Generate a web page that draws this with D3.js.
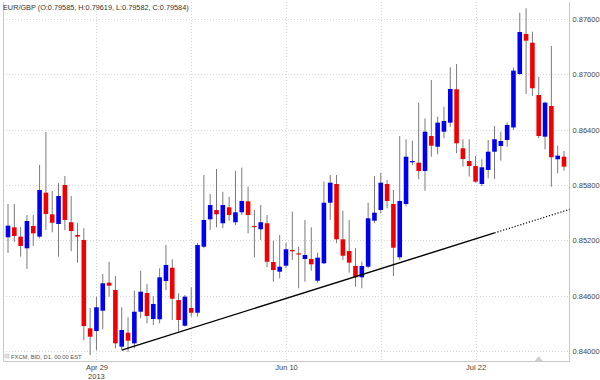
<!DOCTYPE html>
<html>
<head>
<meta charset="utf-8">
<script src="https://cdn.jsdelivr.net/npm/d3@7"></script>
<style>
  body { margin: 0; background: #fff; }
  svg { display: block; font-family: "Liberation Sans", Arial, sans-serif; }
</style>
</head>
<body>
<div id="chart"></div>
<script>
// Daily EUR/GBP candles, first candle is Tue 2013-04-09
const firstDay = "2013-04-09";

const opens = [
  0.85233, 0.85341, 0.85240, 0.85114, 0.85356, 0.85240, 0.85717, 0.85482, 0.85377, 0.85800,
  0.85396, 0.85258, 0.85204, 0.84246, 0.84217, 0.84437, 0.84741, 0.84661, 0.84047, 0.84198,
  0.84083, 0.84426, 0.84629, 0.84347, 0.84344, 0.84759, 0.84903, 0.84553, 0.84274, 0.84466,
  0.84415, 0.85131, 0.85428, 0.85529, 0.85385, 0.85558, 0.85396, 0.85504, 0.85623, 0.85356,
  0.85320, 0.85385, 0.84965, 0.84860, 0.84925, 0.85095, 0.85059, 0.84998, 0.84998, 0.84762,
  0.84951, 0.85608, 0.85811, 0.85211, 0.85084, 0.84922, 0.84799, 0.84914, 0.85413, 0.85529,
  0.85811, 0.85594, 0.85016, 0.85594, 0.86046, 0.86042, 0.85952, 0.86331, 0.86215, 0.86378,
  0.86476, 0.86838, 0.86198, 0.86060, 0.86006, 0.85811, 0.85963, 0.86161, 0.86223, 0.86288,
  0.86424, 0.87004, 0.87438, 0.87343, 0.86776, 0.86324, 0.86657, 0.86079, 0.86107
];
const highs = [
  0.85594, 0.85594, 0.85345, 0.85475, 0.85475, 0.86017, 0.86375, 0.85735, 0.85819, 0.85898,
  0.85681, 0.85385, 0.85331, 0.84466, 0.84589, 0.84835, 0.84968, 0.84813, 0.84474, 0.84365,
  0.84654, 0.84871, 0.84727, 0.84596, 0.84897, 0.85149, 0.84994, 0.84626, 0.84607, 0.84691,
  0.85171, 0.85909, 0.85703, 0.85974, 0.85727, 0.85673, 0.85955, 0.85988, 0.85782, 0.85529,
  0.85583, 0.85475, 0.85196, 0.85258, 0.85174, 0.85511, 0.85131, 0.85421, 0.85341, 0.85066,
  0.85836, 0.85909, 0.85909, 0.85521, 0.85421, 0.85114, 0.84968, 0.85608, 0.85898, 0.85934,
  0.85854, 0.85746, 0.86331, 0.86296, 0.86281, 0.86693, 0.86523, 0.86939, 0.86541, 0.86649,
  0.87076, 0.87112, 0.86296, 0.86296, 0.86115, 0.86079, 0.86288, 0.86440, 0.86378, 0.86476,
  0.87072, 0.87669, 0.87716, 0.87462, 0.86975, 0.86703, 0.87307, 0.86226, 0.86169
];
const lows = [
  0.85063, 0.85182, 0.85023, 0.84889, 0.85139, 0.85222, 0.85312, 0.85287, 0.85023, 0.85312,
  0.85084, 0.84958, 0.84119, 0.83957, 0.84011, 0.84235, 0.84589, 0.84029, 0.84011, 0.83992,
  0.84029, 0.84355, 0.84300, 0.84282, 0.84300, 0.84661, 0.84336, 0.84209, 0.84264, 0.84372,
  0.84372, 0.85114, 0.85312, 0.85341, 0.85331, 0.85413, 0.85366, 0.85475, 0.85276, 0.85016,
  0.85204, 0.84908, 0.84751, 0.84788, 0.84900, 0.84987, 0.84680, 0.84751, 0.84871, 0.84741,
  0.84943, 0.85421, 0.85168, 0.84987, 0.84849, 0.84697, 0.84680, 0.84897, 0.85385, 0.85493,
  0.85547, 0.84813, 0.84987, 0.85572, 0.86017, 0.85862, 0.85738, 0.86107, 0.86133, 0.86307,
  0.86432, 0.86144, 0.85999, 0.85890, 0.85825, 0.85789, 0.85873, 0.85865, 0.86064, 0.86215,
  0.86397, 0.86995, 0.86787, 0.86765, 0.86307, 0.86187, 0.85782, 0.85927, 0.85955
];
const closes = [
  0.85359, 0.85247, 0.85139, 0.85410, 0.85276, 0.85746, 0.85486, 0.85391, 0.85681, 0.85421,
  0.85301, 0.85240, 0.84271, 0.84155, 0.84474, 0.84734, 0.84708, 0.84083, 0.84228, 0.84112,
  0.84426, 0.84643, 0.84380, 0.84510, 0.84799, 0.84933, 0.84567, 0.84336, 0.84589, 0.84415,
  0.85149, 0.85421, 0.85583, 0.85482, 0.85583, 0.85475, 0.85504, 0.85627, 0.85475, 0.85348,
  0.85396, 0.84968, 0.84878, 0.84914, 0.85103, 0.85081, 0.85052, 0.85041, 0.84940, 0.85012,
  0.85608, 0.85825, 0.85211, 0.85033, 0.84958, 0.84799, 0.84922, 0.85439, 0.85500, 0.85825,
  0.85627, 0.85120, 0.85627, 0.86107, 0.86060, 0.85952, 0.86378, 0.86226, 0.86476, 0.86494,
  0.86841, 0.86252, 0.86082, 0.86006, 0.85836, 0.85992, 0.86161, 0.86296, 0.86277, 0.86451,
  0.87040, 0.87459, 0.87365, 0.86849, 0.86331, 0.86693, 0.86101, 0.86118, 0.85999
];

// Axis ticks
const priceTicks = [0.840, 0.846, 0.852, 0.858, 0.864, 0.870, 0.876];
const gridDays = ["2013-04-29", "2013-05-20", "2013-06-10", "2013-07-01", "2013-07-22"];
const tickDays = ["2013-04-29", "2013-06-10", "2013-07-22"];
const tickLabels = ["Apr 29", "Jun 10", "Jul 22"];
const tickYears = ["2013", "", ""];

// Support trend line (date, price), dotted extension after the second point
const trendDays = ["2013-05-03", "2013-07-25"];
const trendPrices = [0.8401, 0.8528];

// Event marker on the date axis
const markerDays = ["2013-08-05"];

const title = "EUR/GBP (O:0.79585, H:0.79619, L:0.79582, C:0.79584)";
const footer = "FXCM, BID, D1, 00:00 EST";

// Build the list of trading days (weekdays only)
const parseDay = d3.timeParse("%Y-%m-%d");
const fmtDay = d3.timeFormat("%Y-%m-%d");
const days = [];
let cur = parseDay(firstDay);
while (days.length < closes.length) {
  if (cur.getDay() !== 0 && cur.getDay() !== 6) days.push(fmtDay(cur));
  cur = d3.timeDay.offset(cur, 1);
}
const candles = days.map((day, i) => ({
  day: day, open: opens[i], high: highs[i], low: lows[i], close: closes[i]
}));

const width = 600, height = 380;
const plot = { left: 3, right: 569.5, top: 2, bottom: 361 };

const svg = d3.select("#chart").append("svg")
  .attr("width", width)
  .attr("height", height);

// Scales: candle index -> x, price -> y
const xi = d3.scaleLinear().domain([0, days.length - 1]).range([8, 564]);
const x = day => xi(days.indexOf(day));
const y = d3.scaleLinear().domain([0.840, 0.876]).range([351, 19]);

// Grid lines
svg.append("g")
  .selectAll("line")
  .data(priceTicks)
  .enter().append("line")
  .attr("x1", plot.left).attr("x2", plot.right)
  .attr("y1", d => Math.round(y(d)) + 0.5).attr("y2", d => Math.round(y(d)) + 0.5)
  .attr("stroke", "#d8d8d8")
  .attr("stroke-dasharray", "1,2");

svg.append("g")
  .selectAll("line")
  .data(gridDays)
  .enter().append("line")
  .attr("x1", d => Math.round(x(d)) + 0.5).attr("x2", d => Math.round(x(d)) + 0.5)
  .attr("y1", plot.top).attr("y2", plot.bottom)
  .attr("stroke", "#d8d8d8")
  .attr("stroke-dasharray", "1,2");

// Frame (left, right, bottom)
svg.append("path")
  .attr("d", `M${plot.left + 0.5},${plot.top}V${plot.bottom + 0.5}H${plot.right}V${plot.top}`)
  .attr("fill", "none")
  .attr("stroke", "#c8c8c8");

// Price axis on the right
const yAxis = svg.append("g")
  .attr("transform", `translate(${plot.right},0)`)
  .call(d3.axisRight(y).tickValues(priceTicks).tickFormat(d3.format(".5f")).tickSize(0).tickPadding(3));
yAxis.select(".domain").remove();
yAxis.selectAll("text")
  .attr("font-size", 7.5)
  .attr("font-family", "Liberation Sans, Arial, sans-serif")
  .attr("fill", "#444");

// Date axis labels
const xAxis = svg.append("g")
  .attr("transform", `translate(0,${plot.bottom})`)
  .call(d3.axisBottom(xi)
    .tickValues(tickDays.map(d => days.indexOf(d)))
    .tickFormat((d, i) => tickLabels[i])
    .tickSize(0).tickPadding(4));
xAxis.select(".domain").remove();
xAxis.selectAll("text")
  .attr("font-size", 7.5)
  .attr("font-family", "Liberation Sans, Arial, sans-serif")
  .attr("fill", "#444");

svg.append("g")
  .selectAll("text")
  .data(tickDays)
  .enter().append("text")
  .attr("x", d => x(d))
  .attr("y", plot.bottom + 18)
  .attr("text-anchor", "middle")
  .attr("font-size", 7.5)
  .attr("fill", "#444")
  .text((d, i) => tickYears[i]);

// Candle wicks
svg.append("g")
  .selectAll("line")
  .data(candles)
  .enter().append("line")
  .attr("x1", d => x(d.day)).attr("x2", d => x(d.day))
  .attr("y1", d => y(d.high)).attr("y2", d => y(d.low))
  .attr("stroke", "#7a7a7a")
  .attr("stroke-width", 1);

// Candle bodies
const bodyW = 4.6;
svg.append("g")
  .selectAll("rect")
  .data(candles)
  .enter().append("rect")
  .attr("x", d => x(d.day) - bodyW / 2)
  .attr("width", bodyW)
  .attr("y", d => y(Math.max(d.open, d.close)))
  .attr("height", d => Math.max(1.2, Math.abs(y(d.open) - y(d.close))))
  .attr("fill", d => d.close >= d.open ? "#0000f0" : "#f00000");

// Trend line: solid between the two points, dotted to the right edge
const t0 = days.indexOf(trendDays[0]), t1 = days.indexOf(trendDays[1]);
const slope = (trendPrices[1] - trendPrices[0]) / (t1 - t0);
const tEnd = xi.invert(plot.right);
svg.append("line")
  .attr("x1", xi(t0)).attr("y1", y(trendPrices[0]))
  .attr("x2", xi(t1)).attr("y2", y(trendPrices[1]))
  .attr("stroke", "#000")
  .attr("stroke-width", 1.4);
svg.append("line")
  .attr("x1", xi(t1)).attr("y1", y(trendPrices[1]))
  .attr("x2", xi(tEnd)).attr("y2", y(trendPrices[0] + slope * (tEnd - t0)))
  .attr("stroke", "#000")
  .attr("stroke-width", 1.2)
  .attr("stroke-dasharray", "1.2,1.8");

// Event marker
svg.append("g")
  .selectAll("path")
  .data(markerDays)
  .enter().append("path")
  .attr("d", d => `M${x(d) - 4},${plot.bottom}L${x(d)},${plot.bottom - 5}L${x(d) + 4},${plot.bottom}Z`)
  .attr("fill", "#cfcfcf");

// Title and footer
svg.append("text")
  .attr("x", 3).attr("y", 10)
  .attr("font-size", 7.3)
  .attr("fill", "#333")
  .text(title);

svg.append("rect")
  .attr("x", 5).attr("y", 354).attr("width", 4).attr("height", 4)
  .attr("fill", "#e2e2e2").attr("stroke", "#bbb").attr("stroke-width", 0.5);
svg.append("text")
  .attr("x", 11).attr("y", 359)
  .attr("font-size", 5.8)
  .attr("fill", "#555")
  .text(footer);
</script>
</body>
</html>
